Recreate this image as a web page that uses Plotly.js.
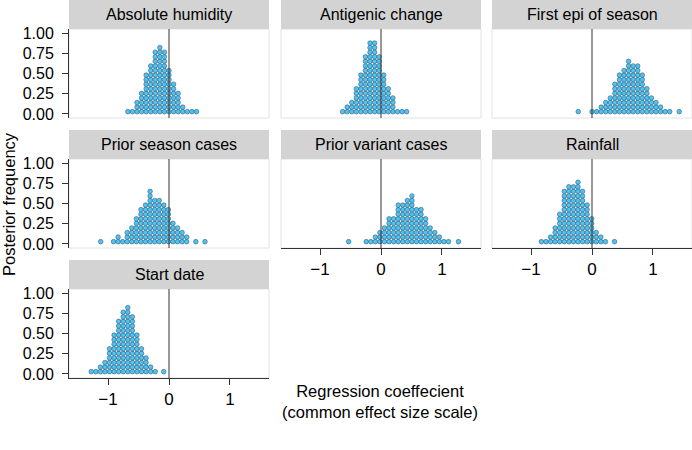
<!DOCTYPE html>
<html>
<head>
<meta charset="utf-8">
<script src="https://cdn.plot.ly/plotly-3.0.1.min.js"></script>
<style>html,body{margin:0;padding:0;background:#fff;}#chart{width:692px;height:450px;}</style>
</head>
<body>
<div id="chart"></div>
<script>
// ---- Data: dot-stack bin centres and dot counts per panel ----
const panelNames = ["Absolute humidity", "Antigenic change", "First epi of season",
                    "Prior season cases", "Prior variant cases", "Rainfall", "Start date"];

const absHumX = [-0.675,-0.6,-0.525,-0.45,-0.375,-0.3,-0.225,-0.15,-0.075,0,0.075,0.15,0.225,0.3,0.375,0.45];
const absHumN = [1,1,3,5,9,11,14,15,14,10,7,5,2,1,1,1];

const antigenX = [-0.63,-0.555,-0.48,-0.405,-0.33,-0.255,-0.18,-0.105,-0.03,0.045,0.12,0.195,0.27,0.345,0.42];
const antigenN = [1,2,3,6,9,13,16,16,13,9,6,4,1,1,1];

const firstEpiX = [-0.225,0,0.075,0.15,0.225,0.3,0.375,0.45,0.525,0.6,0.675,0.75,0.825,0.9,0.975,1.05,1.125,1.2,1.275,1.43];
const firstEpiN = [1,1,1,2,3,4,7,9,10,12,11,11,9,6,4,3,2,1,1,1];

const priorSeasonX = [-1.12,-0.91,-0.835,-0.76,-0.685,-0.61,-0.535,-0.46,-0.385,-0.31,-0.235,-0.16,-0.085,-0.01,0.065,0.14,0.215,0.29,0.44,0.59];
const priorSeasonN = [1,1,2,1,3,4,6,8,9,12,10,10,9,8,5,4,3,2,1,1];

const priorVariantX = [-0.53,-0.243,-0.168,-0.093,-0.018,0.057,0.132,0.207,0.282,0.357,0.432,0.507,0.582,0.657,0.732,0.807,0.882,0.957,1.032,1.107,1.27];
const priorVariantN = [1,1,1,2,3,4,6,6,9,9,10,11,8,8,6,4,3,2,1,1,1];

const rainfallX = [-0.83,-0.755,-0.68,-0.605,-0.53,-0.455,-0.38,-0.305,-0.23,-0.155,-0.08,-0.005,0.07,0.145,0.22,0.37];
const rainfallN = [1,1,2,4,7,12,13,13,14,12,9,6,3,2,1,1];

const startDateX = [-1.276,-1.201,-1.126,-1.051,-0.976,-0.901,-0.826,-0.751,-0.676,-0.601,-0.526,-0.451,-0.376,-0.301,-0.226,-0.087];
const startDateN = [1,1,2,3,6,9,12,14,15,13,9,6,4,2,1,1];

const yTickVals = [0, 0.25, 0.5, 0.75, 1];
const xTickVals = [-1, 0, 1];

const panelX = [absHumX, antigenX, firstEpiX, priorSeasonX, priorVariantX, rainfallX, startDateX];
const panelN = [absHumN, antigenN, firstEpiN, priorSeasonN, priorVariantN, rainfallN, startDateN];

// ---- Layout geometry ----
const W = 692, H = 450;
const colPx = [[69,269],[281,481],[492,692]];
const rowPx = [[29,118],[159,248],[289,378]];
const stripPx = [[0,29],[130,159],[260,289]];
const pos = [[0,0],[0,1],[0,2],[1,0],[1,1],[1,2],[2,0]];
const xRange = [-1.64, 1.64], yRange = [-0.05, 1.05];
const bottomPanels = [4,5,6], leftPanels = [0,3,6];
const binWidth = 0.075; // dot diameter in x units (style)

const font = "Liberation Sans, Arial, Helvetica, sans-serif";
const traces = [], shapes = [], annotations = [];
const layout = {
  width: W, height: H, margin: {l:0, r:0, t:0, b:0},
  paper_bgcolor: "#fff", plot_bgcolor: "rgba(0,0,0,0)",
  showlegend: false, font: {family: font, color: "#000"}
};

pos.forEach(([r, c], i) => {
  const k = i + 1, sfx = k === 1 ? "" : String(k);
  const [x0, x1] = colPx[c], [y0, y1] = rowPx[r];
  const pxPerX = (x1 - x0) / (xRange[1] - xRange[0]);
  const pxPerY = (y1 - y0) / (yRange[1] - yRange[0]);
  const pitchY = binWidth * pxPerX / pxPerY;

  // stack dots
  const xs = [], ys = [];
  panelX[i].forEach((xv, j) => {
    for (let d = 0; d < panelN[i][j]; d++) { xs.push(xv); ys.push((d + 0.5) * pitchY); }
  });
  traces.push({
    type: "scatter", mode: "markers", x: xs, y: ys,
    xaxis: "x" + sfx, yaxis: "y" + sfx, hoverinfo: "skip", cliponaxis: false,
    marker: {size: 4.6, color: "#4fc4f3", line: {color: "#24445f", width: 0.5}}
  });

  const isBottom = bottomPanels.includes(i), isLeft = leftPanels.includes(i);
  layout["xaxis" + sfx] = {
    domain: [x0 / W, x1 / W], range: xRange, anchor: "y" + sfx,
    showgrid: false, zeroline: false, fixedrange: true,
    showline: isBottom, linecolor: "#333", linewidth: 1,
    ticks: isBottom ? "outside" : "", ticklen: 6, tickcolor: "#333", tickwidth: 1,
    tickvals: xTickVals, showticklabels: isBottom,
    tickfont: {family: font, size: 17, color: "#000"}
  };
  layout["yaxis" + sfx] = {
    domain: [1 - y1 / H, 1 - y0 / H], range: yRange, anchor: "x" + sfx,
    showgrid: false, zeroline: false, fixedrange: true,
    showline: isLeft, linecolor: "#333", linewidth: 1,
    ticks: isLeft ? "outside" : "", ticklen: 6, tickcolor: "#333", tickwidth: 1,
    tickvals: yTickVals, tickformat: ".2f", showticklabels: isLeft,
    ticklabelstandoff: 5,
    tickfont: {family: font, size: 16, color: "#000"}
  };

  // panel border (light)
  shapes.push({type: "rect", xref: "paper", yref: "paper", layer: "below",
    x0: x0 / W, x1: x1 / W, y0: 1 - y1 / H, y1: 1 - y0 / H,
    line: {color: "#e2e2e2", width: 1}, fillcolor: "rgba(0,0,0,0)"});
  // strip
  const [s0, s1] = stripPx[r];
  shapes.push({type: "rect", xref: "paper", yref: "paper", layer: "below",
    x0: x0 / W, x1: x1 / W, y0: 1 - s1 / H, y1: 1 - s0 / H,
    line: {width: 0}, fillcolor: "#d3d3d3"});
  annotations.push({xref: "paper", yref: "paper", x: (x0 + x1) / 2 / W, y: 1 - (s0 + s1) / 2 / H,
    text: panelNames[i], showarrow: false, xanchor: "center", yanchor: "middle",
    font: {family: font, size: 16, color: "#000"}});
  // vertical reference line at 0
  shapes.push({type: "line", xref: "x" + sfx, yref: "y" + sfx + " domain",
    x0: 0, x1: 0, y0: 0, y1: 1, layer: "above", line: {color: "#333", width: 1}});
});

annotations.push({xref: "paper", yref: "paper", x: 9 / W, y: 1 - 204 / H,
  text: "Posterior frequency", textangle: -90, showarrow: false,
  xanchor: "center", yanchor: "middle", font: {family: font, size: 16.5, color: "#000"}});
annotations.push({xref: "paper", yref: "paper", x: 380 / W, y: 1 - 401 / H,
  text: "Regression coeffecient<br>(common effect size scale)", showarrow: false,
  xanchor: "center", yanchor: "middle", align: "center",
  font: {family: font, size: 16.5, color: "#000"}});

layout.shapes = shapes;
layout.annotations = annotations;
Plotly.newPlot("chart", traces, layout, {staticPlot: true, displayModeBar: false});
</script>
</body>
</html>
